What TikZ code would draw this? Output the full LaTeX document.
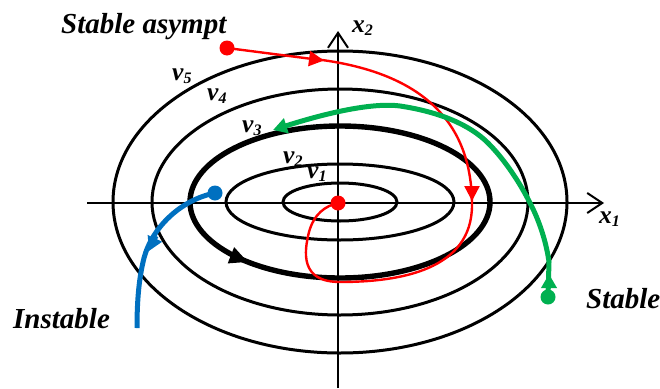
\documentclass[tikz,border=0pt]{standalone}
\usepackage{fontspec}
\setmainfont{Liberation Serif}
\usetikzlibrary{arrows.meta}
\definecolor{rd}{RGB}{255,0,0}
\definecolor{gr}{RGB}{0,176,80}
\definecolor{bl}{RGB}{0,112,192}
\newcommand\lblsub[1]{\raisebox{-0.14em}{\fontsize{16}{16}\selectfont #1}}
\begin{document}
\begin{tikzpicture}[x=1pt,y=-1pt,
  orbit/.style={line width=3pt},
  orbitthick/.style={line width=5.4pt},
  axis/.style={line width=2pt,-{Straight Barb[length=15pt,width=20pt,line width=2pt]}},
  redline/.style={rd,line width=2.4pt},
  greenline/.style={gr,line width=5pt},
  blueline/.style={bl,line width=5pt},
  tipr/.style={-{Triangle[length=15pt,width=15pt]}},
  tipg/.style={-{Triangle[length=14pt,width=15pt]}},
  vlab/.style={anchor=base west,inner sep=0pt,font=\bfseries\itshape\fontsize{25.5}{25.5}\selectfont},
  tlab/.style={anchor=base west,inner sep=0pt,font=\bfseries\itshape\fontsize{29}{30}\selectfont},
]
\useasboundingbox (0,0) rectangle (660,388);
% axes
\coordinate (xl) at (87,203);
\coordinate (xr) at (604,203);
\coordinate (yb) at (338,388);
\coordinate (yt) at (338,31);
\draw[axis] (xl) -- (xr);
\draw[axis] (yb) -- (yt);
% ellipses
\coordinate (c) at (340,202);
\draw[orbit] (c) ellipse [x radius=57, y radius=19];
\draw[orbit] (c) ellipse [x radius=114, y radius=38];
\draw[orbitthick] (c) ellipse [x radius=150, y radius=76];
\draw[orbit] (c) ellipse [x radius=188, y radius=113];
\draw[orbit] (c) ellipse [x radius=227, y radius=151];
% arrow on v3
\draw[line width=2pt,-{Triangle[length=18pt,width=17pt]}] (c) ++(144:150 and 76) arc [start angle=144, end angle=128, x radius=150, y radius=76];
% labels
\node[vlab] (v5) at (172,80) {v\lblsub{5}};
\node[vlab] (v4) at (207,100) {v\lblsub{4}};
\node[vlab] (v3) at (242,132) {v\lblsub{3}};
\node[vlab] (v2) at (283,163) {v\lblsub{2}};
\node[vlab] (v1) at (307,178) {v\lblsub{1}};
\node[vlab] (x2) at (352,32) {x\lblsub{2}};
\node[vlab] (x1) at (599,223) {x\lblsub{1}};
\node[tlab] (sa) at (61,33) {Stable asympt};
\node[tlab] (ins) at (13,328) {Instable};
\node[tlab] (st) at (586,308) {Stable};
% red trajectory
\coordinate (rs) at (227,48);
\coordinate (ro) at (338,203);
\draw[redline,tipr] (rs) -- (324,60.5);
\draw[redline] (316,59.2) .. controls (420,72) and (472,120) .. (472,205)
  .. controls (472,270) and (400,282) .. (340,282)
  .. controls (300,282) and (304,252) .. (309,232)
  .. controls (314,214) and (325,206) .. (ro);
\draw[redline,tipr] (472,186) -- (472,201);
\fill[rd] (rs) circle (7.5);
\fill[rd] (ro) circle (7.5);
% green trajectory
\coordinate (gs) at (548,297);
\draw[greenline,tipg] (gs) -- (549,262) .. controls (546,240) and (538,218) .. (530,203)
  .. controls (520,183) and (505,160) .. (488,143)
  .. controls (470,125) and (440,112) .. (400,106)
  .. controls (370,102) and (320,115) .. (273,130);
\draw[greenline,tipg] (549,287) -- (549,274);
\fill[gr] (gs) circle (7.5);
% blue trajectory
\coordinate (bs) at (215,193);
\draw[blueline] (bs) .. controls (180,200) and (152,228) .. (144,258)
  .. controls (139,278) and (137,300) .. (137,328);
\draw[blueline,tipg] (156,236) -- (149,251);
\fill[bl] (bs) circle (7.5);
\end{tikzpicture}
\end{document}
